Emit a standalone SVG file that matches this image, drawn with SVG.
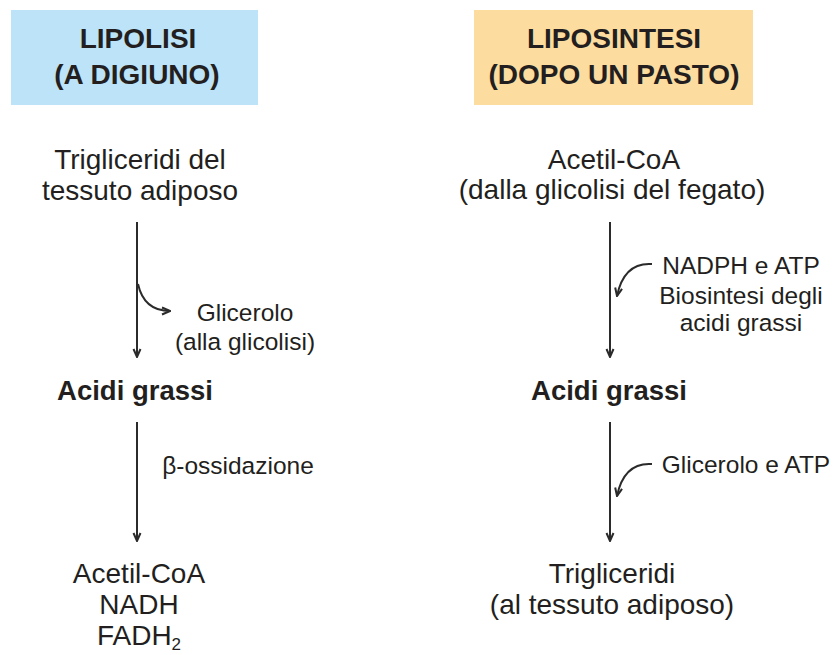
<svg xmlns="http://www.w3.org/2000/svg" width="834" height="655" viewBox="0 0 834 655">
<defs>
<marker id="ah" viewBox="0 0 10 10" refX="9" refY="5" markerWidth="10" markerHeight="10" markerUnits="userSpaceOnUse" orient="auto">
<path d="M1,1.5 L9,5 L1,8.5" fill="none" stroke="#2b2b2b" stroke-width="2"/>
</marker>
</defs>
<style>
text{font-family:"Liberation Sans",Arial,sans-serif;fill:#231f20;text-anchor:middle}
.t{font-weight:bold;font-size:28px}
.m{font-size:28px}
.b{font-weight:bold;font-size:27.5px}
.s{font-size:24.5px}
.ar{fill:none;stroke:#2b2b2b;stroke-width:2;marker-end:url(#ah)}
</style>
<rect width="834" height="655" fill="#fff"/>
<g id="title-lipolisi">
<rect x="11" y="10" width="247" height="95" fill="#bde3f8"/>
<text class="t" x="138" y="48">LIPOLISI</text>
<text class="t" x="137" y="84">(A DIGIUNO)</text>
</g>
<g id="title-liposintesi">
<rect x="474" y="10" width="279" height="95" fill="#fddc9f"/>
<text class="t" x="614" y="48">LIPOSINTESI</text>
<text class="t" x="614" y="84">(DOPO UN PASTO)</text>
</g>
<g id="trigliceridi-adiposo">
<text class="m" x="140" y="169">Trigliceridi del</text>
<text class="m" x="140" y="200">tessuto adiposo</text>
</g>
<g id="acidi-grassi-left">
<text class="b" x="135" y="400">Acidi grassi</text>
</g>
<g id="prodotti-left">
<text class="m" x="139" y="583">Acetil-CoA</text>
<text class="m" x="139" y="614">NADH</text>
<text class="m" x="139" y="645">FADH<tspan font-size="17" dy="5">2</tspan></text>
</g>
<g id="acetil-coa-right">
<text class="m" x="614" y="169">Acetil-CoA</text>
<text class="m" x="612" y="199">(dalla glicolisi del fegato)</text>
</g>
<g id="acidi-grassi-right">
<text class="b" x="609" y="400">Acidi grassi</text>
</g>
<g id="trigliceridi-right">
<text class="m" x="612" y="583">Trigliceridi</text>
<text class="m" x="612" y="614">(al tessuto adiposo)</text>
</g>
<g id="labels">
<text class="s" x="245" y="321">Glicerolo</text>
<text class="s" x="245" y="350">(alla glicolisi)</text>
<text class="s" x="238" y="474">β-ossidazione</text>
<text class="s" x="741" y="274">NADPH e ATP</text>
<text class="s" x="741" y="304">Biosintesi degli</text>
<text class="s" x="741" y="331">acidi grassi</text>
<text class="s" x="746" y="473">Glicerolo e ATP</text>
</g>
<g id="connectors">
<line class="ar" x1="137" y1="222" x2="137" y2="357"/>
<path class="ar" d="M138,284 Q144,311 170,311"/>
<line class="ar" x1="137" y1="422" x2="137" y2="541"/>
<line class="ar" x1="610" y1="222" x2="610" y2="357"/>
<path class="ar" d="M652,264 Q624,262 617,296"/>
<line class="ar" x1="610" y1="422" x2="610" y2="541"/>
<path class="ar" d="M652,464 Q624,462 617,496"/>
</g>
</svg>
